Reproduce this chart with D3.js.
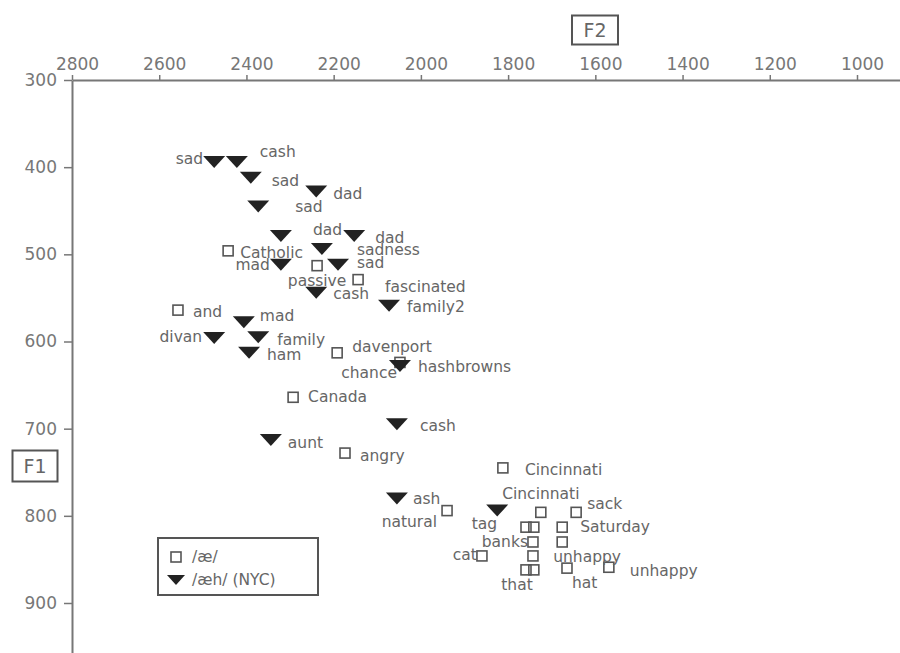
<!DOCTYPE html>
<html><head><meta charset="utf-8">
<script src="https://cdn.jsdelivr.net/npm/d3@7"></script>
<style>
html,body{margin:0;padding:0;background:#fff;}
svg{display:block;font-family:"DejaVu Sans",Verdana,sans-serif;}
</style></head>
<body>
<script>
// ---- data ----
const f2Ticks = [2800, 2600, 2400, 2200, 2000, 1800, 1600, 1400, 1200, 1000];
const f1Ticks = [300, 400, 500, 600, 700, 800, 900];

// /æ/ (open squares)
const aeWords = ["Catholic","passive","fascinated","and","davenport","chance","Canada","angry",
  "Cincinnati","natural","Cincinnati","","","banks","","that","","cat","sack","Saturday","unhappy","hat","unhappy"];
const aeF2 = [2442,2238,2144,2557,2192,2048,2293,2174,1812,1940,1725,1759,1741,1743,1743,1759,1741,1860,1644,1676,1676,1665,1569];
const aeF1 = [496,513,529,564,613,624,664,728,745,794,796,813,813,830,846,862,862,846,796,813,830,860,859];

// /æh/ (NYC) (filled triangles)
const aehWords = ["sad","cash","sad","dad","sad","dad","dad","sadness","mad","sad","cash","family2",
  "mad","divan","family","ham","hashbrowns","cash","aunt","ash","tag"];
const aehF2 = [2474,2422,2390,2240,2373,2321,2153,2227,2321,2190,2240,2073,2406,2474,2373,2394,2048,2055,2344,2055,1825];
const aehF1 = [394,394,412,428,445,479,479,494,512,512,544,559,578,596,595,613,628,695,713,780,794];

const legendLabels = ["/æ/", "/æh/ (NYC)"];

// ---- label layout (pixel offsets from marker, anchor) ----
const aeLabelPos = [[12,2,"start"],[0,15,"middle"],[27,7,"start"],[15,2,"start"],[15,-6,"start"],[-3,11,"end"],
  [15,0,"start"],[15,3,"start"],[22,2,"start"],[-10,11,"end"],[0,-18,"middle"],[0,0,"start"],[0,0,"start"],
  [-5,0,"end"],[0,0,"start"],[-9,15,"middle"],[0,0,"start"],[-5,-1,"end"],[11,-8,"start"],[18,0,"start"],
  [-9,15,"start"],[5,15,"start"],[21,4,"start"]];
const aehLabelPos = [[-11,-3,"end"],[23,-10,"start"],[21,3,"start"],[17,2,"start"],[37,1,"start"],[32,-6,"start"],
  [21,2,"start"],[35,1,"start"],[-11,0,"end"],[19,-2,"start"],[17,1,"start"],[18,1,"start"],[16,-6,"start"],
  [-12,-1,"end"],[19,3,"start"],[18,2,"start"],[18,1,"start"],[23,2,"start"],[17,3,"start"],[16,1,"start"],[0,13,"end"]];

// ---- chart ----
const W = 900, H = 653;
const svg = d3.select("body").append("svg").attr("width", W).attr("height", H);
svg.append("rect").attr("width", W).attr("height", H).attr("fill", "#fff");

const x = d3.scaleLinear().domain([2800, 900]).range([72, 72 + 1900 * 785 / 1800]);
const y = d3.scaleLinear().domain([300, 960]).range([80, 80 + 660 * 523 / 600]);

const textColor = "#666";
const axisColor = "#777";

const gx = svg.append("g").attr("transform", "translate(0,80)")
  .call(d3.axisTop(x).tickValues(f2Ticks).tickSize(5).tickPadding(5).tickSizeOuter(0).tickFormat(d3.format("d")));
gx.selectAll("text").attr("dx", 5);
const gy = svg.append("g").attr("transform", "translate(72,0)")
  .call(d3.axisLeft(y).tickValues(f1Ticks).tickSize(8).tickPadding(7).tickSizeOuter(0).tickFormat(d3.format("d")));
[gx, gy].forEach(g => {
  g.select(".domain").attr("stroke", axisColor).attr("stroke-width", 2);
  g.selectAll(".tick line").attr("stroke", axisColor).attr("stroke-width", 1.5);
  g.selectAll("text").attr("fill", "#777").style("font-size", "17px").style("font-family", "DejaVu Sans");
});

// axis title boxes
function boxTitle(cx, cy, w, h, txt) {
  svg.append("rect").attr("x", cx - w / 2).attr("y", cy - h / 2).attr("width", w).attr("height", h)
    .attr("fill", "#fff").attr("stroke", "#555").attr("stroke-width", 2);
  svg.append("text").attr("x", cx).attr("y", cy).attr("text-anchor", "middle").attr("dominant-baseline", "central")
    .attr("fill", textColor).style("font-size", "19px").text(txt);
}
boxTitle(595, 30, 46, 29, "F2");
boxTitle(35, 466, 45, 31, "F1");

const triPath = "M-11,-6L11,-6L0,6Z";
const sqSize = 10;

const aeData = aeWords.map((w, i) => ({w, f2: aeF2[i], f1: aeF1[i], p: aeLabelPos[i]}));
const aehData = aehWords.map((w, i) => ({w, f2: aehF2[i], f1: aehF1[i], p: aehLabelPos[i]}));

// squares
svg.append("g").selectAll("rect").data(aeData).join("rect")
  .attr("x", d => x(d.f2) - sqSize / 2).attr("y", d => y(d.f1) - sqSize / 2)
  .attr("width", sqSize).attr("height", sqSize)
  .attr("fill", "none").attr("stroke", "#555").attr("stroke-width", 1.6);

// labels
const lab = svg.append("g").style("font-size", "15.5px").attr("fill", textColor);
lab.selectAll("text.ae").data(aeData.filter(d => d.w)).join("text").attr("class", "ae")
  .attr("x", d => x(d.f2) + d.p[0]).attr("y", d => y(d.f1) + d.p[1])
  .attr("text-anchor", d => d.p[2]).attr("dominant-baseline", "central").text(d => d.w);
lab.selectAll("text.aeh").data(aehData).join("text").attr("class", "aeh")
  .attr("x", d => x(d.f2) + d.p[0]).attr("y", d => y(d.f1) + d.p[1])
  .attr("text-anchor", d => d.p[2]).attr("dominant-baseline", "central").text(d => d.w);

// triangles
svg.append("g").selectAll("path").data(aehData).join("path")
  .attr("d", triPath).attr("transform", d => `translate(${x(d.f2)},${y(d.f1)})`)
  .attr("fill", "#222");

// legend
const lg = svg.append("g");
lg.append("rect").attr("x", 158).attr("y", 538).attr("width", 160).attr("height", 57)
  .attr("fill", "#fff").attr("stroke", "#555").attr("stroke-width", 2);
lg.append("rect").attr("x", 171).attr("y", 552).attr("width", sqSize).attr("height", sqSize)
  .attr("fill", "none").attr("stroke", "#555").attr("stroke-width", 1.6);
lg.append("path").attr("d", "M-9,-5L9,-5L0,5Z").attr("transform", "translate(176,580)").attr("fill", "#222");
lg.selectAll("text").data(legendLabels).join("text")
  .attr("x", 192).attr("y", (d, i) => 557 + i * 23).attr("dominant-baseline", "central")
  .attr("fill", textColor).style("font-size", "15.5px").text(d => d);
</script>
</body></html>
